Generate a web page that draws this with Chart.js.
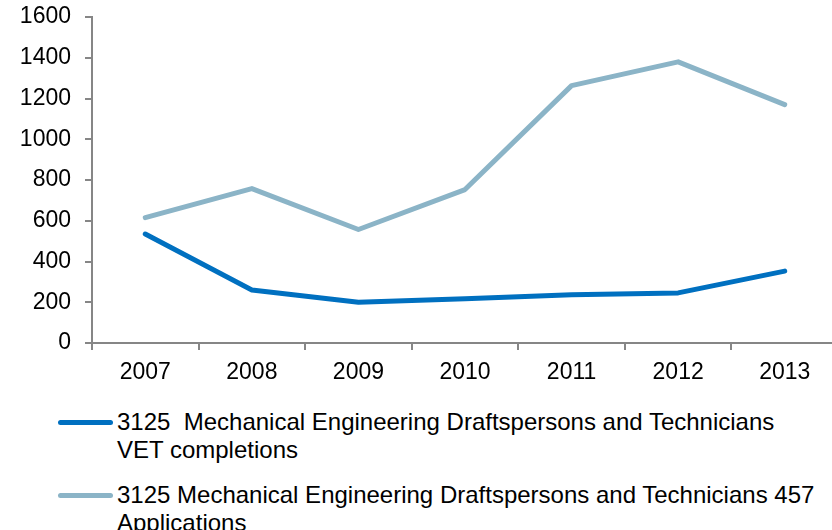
<!DOCTYPE html>
<html>
<head>
<meta charset="utf-8">
<script src="https://cdn.jsdelivr.net/npm/chart.js@4/dist/chart.umd.min.js"></script>
<style>
  html, body { margin: 0; padding: 0; background: #fff; overflow: hidden; width: 832px; height: 530px; }
  #wrap { position: relative; width: 840px; height: 530px; }
  #chart { position: absolute; left: 0; top: 0; }
  #legend { position: absolute; left: 0; top: 408px; font-family: "Liberation Sans", Arial, sans-serif; font-size: 24px; line-height: 28px; color: #000; }
  .item { position: relative; padding-left: 117px; margin-bottom: 17px; white-space: pre; }
  .swatch { position: absolute; left: 58px; top: 11.5px; width: 55px; height: 5px; border-radius: 3px; }
</style>
</head>
<body>
<div id="wrap">
  <canvas id="chart" width="840" height="392"></canvas>
  <div id="legend"></div>
</div>
<script>
// Years on the category axis
const years = ['2007', '2008', '2009', '2010', '2011', '2012', '2013'];

// VET completions per year
const vetCompletions = [535, 260, 200, 217, 237, 246, 353];

// 457 visa applications per year
const applications457 = [615, 758, 557, 753, 1263, 1380, 1170];

// Legend text, one entry per line
const vetLabel = ['3125  Mechanical Engineering Draftspersons and Technicians', 'VET completions'];
const appLabel = ['3125 Mechanical Engineering Draftspersons and Technicians 457', 'Applications'];

const yMin = 0, yMax = 1600, yStep = 200;

const AXIS = '#868686';
const FONT = "'Liberation Sans', Arial, sans-serif";

const datasets = [
  { label: vetLabel, data: vetCompletions, borderColor: '#0070C0' },
  { label: appLabel, data: applications457, borderColor: '#8BB4C7' }
].map(d => Object.assign({
  backgroundColor: d.borderColor,
  borderWidth: 5,
  pointRadius: 0,
  pointHoverRadius: 0,
  tension: 0,
  fill: false,
  borderCapStyle: 'round',
  borderJoinStyle: 'round'
}, d));

const chart = new Chart(document.getElementById('chart'), {
  type: 'line',
  data: { labels: years, datasets },
  options: {
    responsive: false,
    animation: false,
    events: [],
    layout: { padding: { top: 17, left: 0, right: 2, bottom: 0 } },
    plugins: { legend: { display: false }, tooltip: { enabled: false } },
    scales: {
      x: {
        type: 'category',
        offset: true,
        grid: { offset: true, drawOnChartArea: false, drawTicks: true, tickLength: 7, color: AXIS, lineWidth: 2 },
        border: { display: true, color: AXIS, width: 2 },
        ticks: { color: '#000', font: { family: FONT, size: 23 }, padding: 9, maxRotation: 0 },
        afterFit(scale) { scale.height = 49; scale.paddingLeft = 0; scale.paddingRight = 0; }
      },
      y: {
        min: yMin,
        max: yMax,
        grid: { drawOnChartArea: false, drawTicks: true, tickLength: 7, color: AXIS, lineWidth: 2 },
        border: { display: true, color: AXIS, width: 2 },
        ticks: {
          stepSize: yStep,
          color: '#000',
          font: { family: FONT, size: 23 },
          padding: 14,
          callback: v => String(v)
        },
        afterFit(scale) { scale.width = 92; scale.paddingTop = 0; scale.paddingBottom = 0; }
      }
    }
  }
});

// HTML legend built from the dataset labels
const legend = document.getElementById('legend');
chart.data.datasets.forEach(ds => {
  const item = document.createElement('div');
  item.className = 'item';
  const sw = document.createElement('span');
  sw.className = 'swatch';
  sw.style.background = ds.borderColor;
  item.appendChild(sw);
  ds.label.forEach((line, i) => {
    if (i) item.appendChild(document.createElement('br'));
    item.appendChild(document.createTextNode(line));
  });
  legend.appendChild(item);
});
</script>
</body>
</html>
